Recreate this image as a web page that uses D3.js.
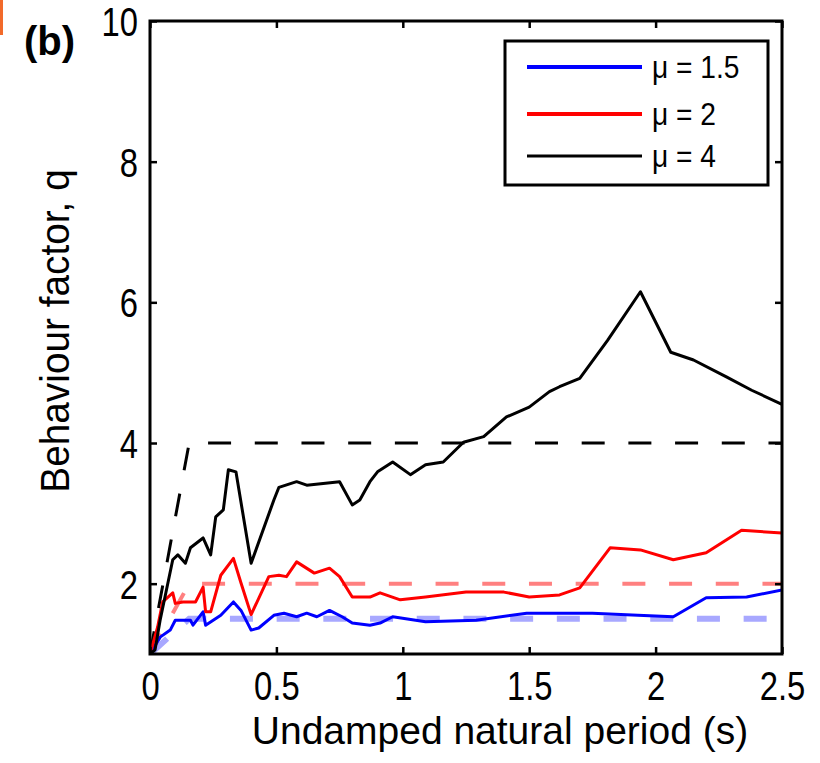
<!DOCTYPE html>
<html><head><meta charset="utf-8">
<script src="https://cdn.jsdelivr.net/npm/d3@7"></script>
<style>html,body{margin:0;padding:0;background:#fff;}svg{display:block;font-family:"Liberation Sans",Arial,Helvetica,sans-serif;}</style>
</head><body>
<svg id="c" width="820" height="763"></svg>
<script>
// ---- data ----
const xTicks = [0, 0.5, 1, 1.5, 2, 2.5];
const xTickLabels = ["0", "0.5", "1", "1.5", "2", "2.5"];
const yTicks = [2, 4, 6, 8, 10];
const yTickLabels = ["2", "4", "6", "8", "10"];
const seriesNames = ["\u03bc = 1.5", "\u03bc = 2", "\u03bc = 4"];
const muValues = [1.5, 2, 4];
const cornerPeriod = 0.155;

const T_mu15 = [0,0.04,0.08,0.10,0.16,0.17,0.21,0.22,0.28,0.33,0.36,0.40,0.43,0.49,0.53,0.58,0.62,0.66,0.71,0.76,0.80,0.87,0.91,0.96,1.09,1.29,1.49,1.75,1.93,2.07,2.20,2.36,2.5];
const q_mu15 = [1,1.24,1.34,1.48,1.48,1.41,1.60,1.41,1.55,1.74,1.62,1.34,1.37,1.55,1.58,1.53,1.58,1.53,1.62,1.53,1.44,1.41,1.44,1.53,1.46,1.48,1.58,1.58,1.55,1.53,1.80,1.81,1.91];

const T_mu2 = [0,0.03,0.05,0.09,0.10,0.13,0.18,0.21,0.22,0.24,0.28,0.33,0.36,0.40,0.47,0.51,0.54,0.58,0.65,0.71,0.75,0.80,0.87,0.91,0.99,1.09,1.25,1.40,1.50,1.62,1.70,1.82,1.94,2.07,2.20,2.34,2.5];
const q_mu2 = [1,1.38,1.74,1.87,1.72,1.74,1.74,1.95,1.60,1.60,2.12,2.36,2.01,1.56,2.10,2.12,2.10,2.31,2.15,2.22,2.10,1.81,1.81,1.87,1.77,1.81,1.88,1.88,1.81,1.84,1.94,2.51,2.48,2.34,2.44,2.76,2.72];

const T_mu4 = [0,0.02,0.04,0.09,0.11,0.14,0.16,0.21,0.24,0.26,0.29,0.31,0.34,0.40,0.49,0.51,0.58,0.62,0.75,0.80,0.83,0.87,0.90,0.96,1.03,1.09,1.16,1.24,1.32,1.41,1.50,1.58,1.62,1.70,1.81,1.94,2.06,2.15,2.28,2.38,2.5];
const q_mu4 = [1,1.06,1.48,2.34,2.41,2.29,2.51,2.65,2.41,2.95,3.05,3.62,3.59,2.29,3.19,3.37,3.45,3.40,3.45,3.12,3.19,3.45,3.59,3.73,3.55,3.69,3.73,4.01,4.09,4.37,4.51,4.73,4.80,4.92,5.46,6.15,5.29,5.18,4.94,4.75,4.55];

// ---- layout ----
const svg = d3.select("#c");
const L = 150, R = 782, T = 21, B = 654;
const x = d3.scaleLinear().domain([0, 2.5]).range([L, R]);
const y = d3.scaleLinear().domain([1, 10]).range([B, T]);

const lineColors = ["#0000ff", "#ff0000", "#000000"];
const refColors = ["#a8a8ff", "#ff8080", "#000000"];
const refWidths = [6, 4, 3];

const line = d3.line().x(d => x(d[0])).y(d => y(d[1]));

svg.append("rect").attr("x",0).attr("y",0).attr("width",3).attr("height",35).attr("fill","#f26a2a");

// clip
svg.append("clipPath").attr("id","pc").append("rect").attr("x",L).attr("y",T).attr("width",R-L).attr("height",B-T);
const plot = svg.append("g").attr("clip-path","url(#pc)");

// reference (dashed) lines
muValues.forEach((mu,i) => {
  const pts = [[0,1],[cornerPeriod,mu],[2.5,mu]];
  plot.append("path").attr("d", line(pts)).attr("fill","none")
    .attr("stroke", refColors[i]).attr("stroke-width", refWidths[i])
    .attr("stroke-dasharray","23,23.7");
});

const data = [d3.zip(T_mu15,q_mu15), d3.zip(T_mu2,q_mu2), d3.zip(T_mu4,q_mu4)];
data.forEach((d,i) => {
  plot.append("path").attr("d", line(d)).attr("fill","none")
    .attr("stroke", lineColors[i]).attr("stroke-width", 3).attr("stroke-linejoin","round");
});

// axes
const tickLen = 7;
const fs = 40, sx = 0.82;
const gx = svg.append("g").attr("transform",`translate(0,${B})`)
  .call(d3.axisBottom(x).tickValues(xTicks).tickSizeInner(-tickLen).tickSizeOuter(0).tickPadding(18).tickFormat((d,i)=>xTickLabels[i]));
const gy = svg.append("g").attr("transform",`translate(${L},0)`)
  .call(d3.axisLeft(y).tickValues(yTicks).tickSizeInner(-tickLen).tickSizeOuter(0).tickPadding(12).tickFormat((d,i)=>yTickLabels[i]));
const gt = svg.append("g").attr("transform",`translate(0,${T})`)
  .call(d3.axisTop(x).tickValues(xTicks).tickSizeInner(-tickLen).tickSizeOuter(0).tickFormat(""));
const gr = svg.append("g").attr("transform",`translate(${R},0)`)
  .call(d3.axisRight(y).tickValues(yTicks).tickSizeInner(-tickLen).tickSizeOuter(0).tickFormat(""));
[gx,gy,gt,gr].forEach(g => {
  g.select(".domain").remove();
  g.selectAll(".tick line").attr("stroke","#000").attr("stroke-width",2.5);
  g.selectAll(".tick text").attr("fill","#000").style("font-size",fs+"px").attr("font-family",null);
});
gx.selectAll(".tick text").attr("transform",`scale(${sx},1)`);
gy.selectAll(".tick text").attr("x",-12/sx).attr("dy","0.36em").attr("transform",`scale(${sx},1)`);

svg.append("rect").attr("x",L).attr("y",T).attr("width",R-L).attr("height",B-T)
  .attr("fill","none").attr("stroke","#000").attr("stroke-width",3);

// axis titles
svg.append("text").attr("transform",`translate(500,744)`).attr("text-anchor","middle")
  .style("font-size","39px").text("Undamped natural period (s)");
svg.append("text").attr("transform",`translate(69,331) rotate(-90) scale(0.97,1)`).attr("text-anchor","middle")
  .style("font-size","40px").text("Behaviour factor, q");
svg.append("text").attr("transform",`translate(24,55)`).style("font-size","40px").style("font-weight","bold").text("(b)");

// legend
const lg = svg.append("g");
lg.append("rect").attr("x",505).attr("y",41).attr("width",263).attr("height",144).attr("fill","#fff").attr("stroke","#000").attr("stroke-width",3);
const rows = [67, 114, 156];
seriesNames.forEach((n,i) => {
  lg.append("line").attr("x1",527).attr("x2",642).attr("y1",rows[i]).attr("y2",rows[i]).attr("stroke",lineColors[i]).attr("stroke-width", i===2?3:4);
  lg.append("text").attr("transform",`translate(652,${rows[i]+11}) scale(0.88,1)`).style("font-size","32px").text(n);
});
</script>
</body></html>
